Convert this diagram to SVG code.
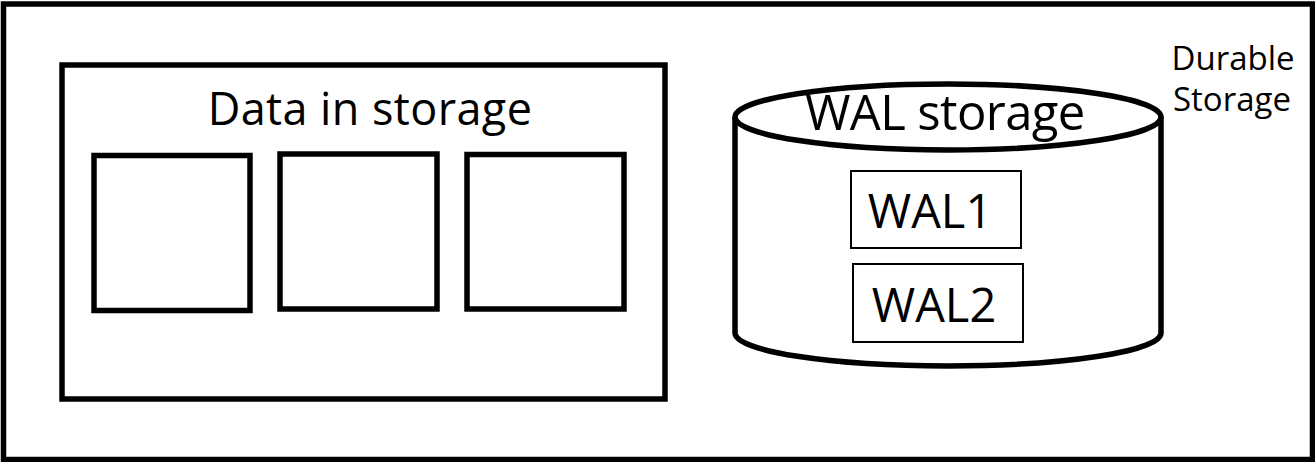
<svg xmlns="http://www.w3.org/2000/svg" width="1315" height="462" viewBox="0 0 1315 462">
<style>
.thick{fill:#fff;stroke:#000;stroke-width:5.5}
.thin{fill:#fff;stroke:#000;stroke-width:2}
text{font-family:"Open Sans","Noto Sans","Liberation Sans",sans-serif;fill:#000;text-anchor:middle}
.t45{font-size:45px;letter-spacing:0.4px}
.t49{font-size:49px;letter-spacing:-0.6px}
.t47{font-size:47px}
.small{font-size:33px}
</style>
<rect width="1315" height="462" fill="#fff"/>
<g id="durable-storage">
<rect x="3.5" y="4" width="1309" height="455.5" fill="none" stroke="#000" stroke-width="5.5"/>
<text class="small" x="1233" y="70">Durable</text>
<text class="small" x="1232" y="111">Storage</text>
</g>
<g id="data-in-storage">
<rect class="thick" x="62" y="65" width="603" height="334"/>
<text class="t45" x="370" y="125">Data in storage</text>
</g>
<g id="block1"><rect class="thick" x="94" y="155.5" width="156" height="155"/></g>
<g id="block2"><rect class="thick" x="280" y="154" width="157" height="155"/></g>
<g id="block3"><rect class="thick" x="467" y="154.5" width="157" height="154.5"/></g>
<g id="wal-storage">
<path class="thick" d="M735,117 L735,333 A213,33 0 0 0 1161,333 L1161,117"/>
<ellipse class="thick" cx="948" cy="117" rx="213" ry="33"/>
<text class="t49" x="945" y="130">WAL storage</text>
</g>
<g id="wal1">
<rect class="thin" x="851" y="171" width="170" height="77"/>
<text class="t47" x="930" y="228">WAL1</text>
</g>
<g id="wal2">
<rect class="thin" x="853" y="264" width="170" height="78"/>
<text class="t47" x="934" y="322">WAL2</text>
</g>
<g id="connectors"></g>
</svg>
